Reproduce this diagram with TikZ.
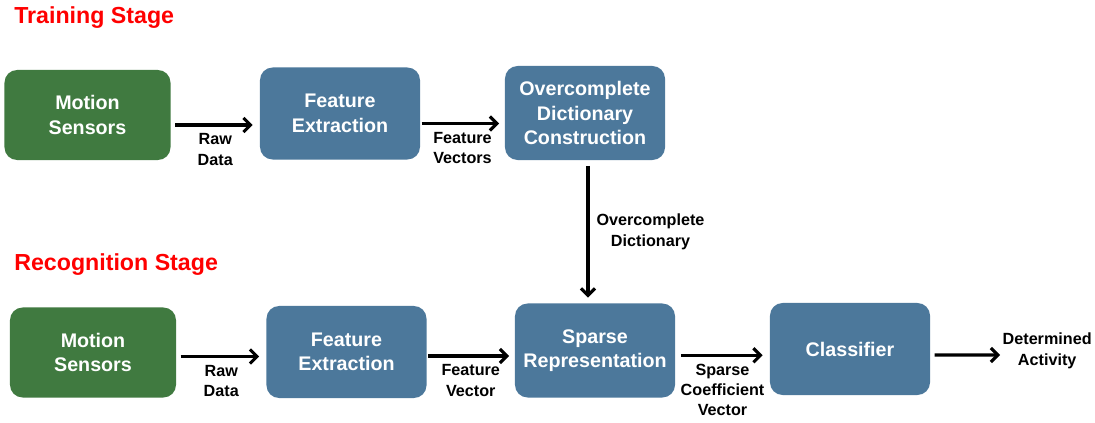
\documentclass[tikz,border=0pt]{standalone}
\usepackage{fontspec}
\setmainfont{Liberation Sans}
\usetikzlibrary{positioning, arrows.meta}

\definecolor{hijau}{RGB}{64,122,64}
\definecolor{biru}{RGB}{76,120,155}

\begin{document}
\begin{tikzpicture}[x=0.025cm, y=-0.025cm,
      blok/.style={rounded corners=9pt, fill=biru, text=white, align=center, minimum width=4cm, minimum height=2.3cm, inner sep=2pt, font=\fontsize{14pt}{17.5pt}\selectfont\bfseries},
      sensor/.style={blok, fill=hijau, minimum width=4.15cm, minimum height=2.25cm},
      ket/.style={align=center, inner sep=1pt, font=\fontsize{11.5pt}{14.5pt}\selectfont\bfseries},
      judul/.style={anchor=west, inner sep=0pt, text=red, font=\fontsize{16.5pt}{19pt}\selectfont\bfseries},
      panah/.style={-{Straight Barb[length=5pt, width=10pt]}, line width=2.2pt}]
      \useasboundingbox (0,0) rectangle (1095,422);

      % training stage
      \node[judul] (t_train) at (14,18) {Training Stage};
      \node[sensor] (ms1) at (87.5,115) {Motion\\ Sensors};
      \node[blok] (fe1) at (340,113.5) {Feature\\ Extraction};
      \node[blok, minimum height=2.35cm] (odc) at (585,113) {Overcomplete\\ Dictionary\\ Construction};

      \draw[panah, shorten <=3pt, shorten >=5pt] ([yshift=-0.25cm]ms1.east) -- node[ket, below=4pt] {Raw\\ Data} ([yshift=-0.25cm]ms1.east -| fe1.west);
      \draw[panah, shorten <=1pt, shorten >=4pt] ([yshift=-0.25cm]fe1.east) -- node[ket, below=4pt] {Feature\\ Vectors} ([yshift=-0.25cm]fe1.east -| odc.west);

      % recognition stage
      \node[judul] (t_recog) at (14,265) {Recognition Stage};
      \node[sensor] (ms2) at (93,352.5) {Motion\\ Sensors};
      \node[blok] (fe2) at (346.5,352) {Feature\\ Extraction};
      \node[blok, minimum height=2.35cm] (sr) at (595,350.5) {Sparse\\ Representation};
      \node[blok] (cls) at (850,349) {Classifier};
      \coordinate (akhir) at (1000,355);
      \node[ket, anchor=west] (act) at (1001,351) {Determined\\ Activity};

      \draw[panah, shorten <=3pt, shorten >=5pt] ([yshift=-0.1cm]ms2.east) -- node[ket, below=4pt] {Raw\\ Data} ([yshift=-0.1cm]ms2.east -| fe2.west);
      \draw[panah, shorten <=1pt, shorten >=4pt] ([yshift=-0.1cm]fe2.east) -- node[ket, below=4pt] {Feature\\ Vector} ([yshift=-0.1cm]fe2.east -| sr.west);
      \draw[panah, shorten <=4pt, shorten >=5pt] ([yshift=-0.12cm]sr.east) -- node[ket, below=4pt] {Sparse\\ Coefficient\\ Vector} ([yshift=-0.12cm]sr.east -| cls.west);
      \draw[panah, shorten <=3pt] ([yshift=-0.15cm]cls.east) -- (akhir);

      % dictionary down to sparse representation
      \draw[panah, shorten <=4pt, shorten >=4pt] ([xshift=0.075cm]odc.south) -- node[ket, right=4pt] {Overcomplete\\ Dictionary} ([xshift=0.075cm]odc.south |- sr.north);
    \end{tikzpicture}
\end{document}
